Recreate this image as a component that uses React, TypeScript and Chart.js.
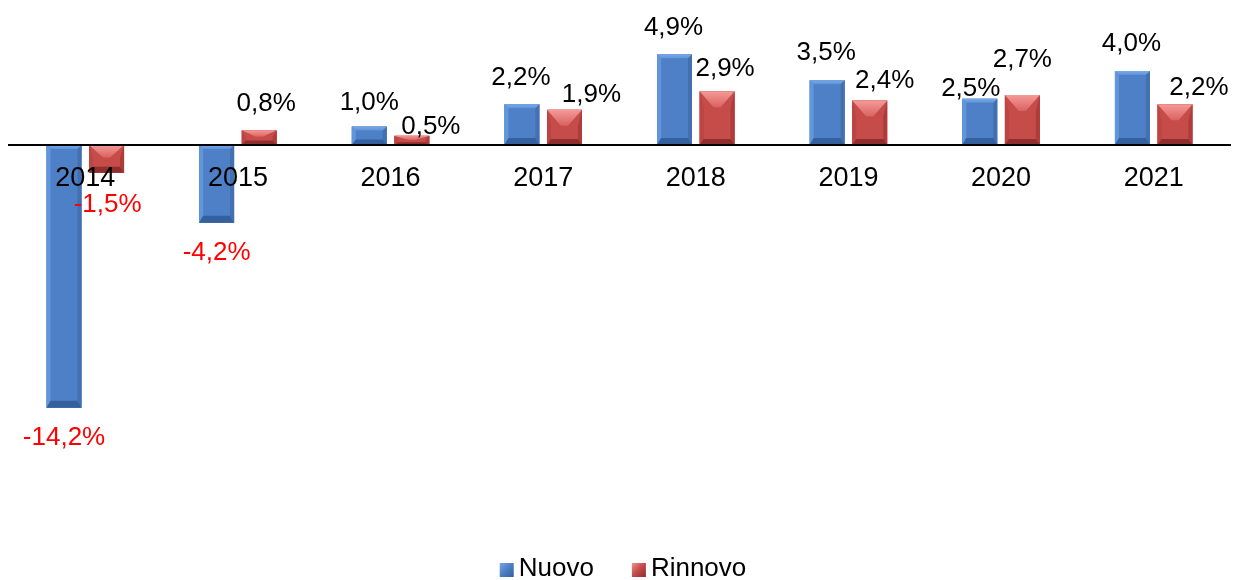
import React, { useEffect, useRef } from 'react';
import { Chart, registerables } from 'chart.js';

Chart.register(...registerables);

const categories = ['2014', '2015', '2016', '2017', '2018', '2019', '2020', '2021'];
const seriesNames = ['Nuovo', 'Rinnovo'];
const nuovoValues = [-14.2, -4.2, 1.0, 2.2, 4.9, 3.5, 2.5, 4.0];
const rinnovoValues = [-1.5, 0.8, 0.5, 1.9, 2.9, 2.4, 2.7, 2.2];

// label nudges in px (dx, dy) relative to the default outside-end position
const nuovoLabelNudge = [[0, 0], [0, 0], [0, 1], [-1, -1], [-1, -2], [-1, -2], [-9, 15], [-1, -2]];
const rinnovoLabelNudge = [[1, 2], [7, -1], [19, 16], [27, 10], [8, 2], [15, 5], [0, -10], [24, 9]];

const FONT = '"Liberation Sans", Arial, Helvetica, sans-serif';

const palettes = [
  { main: '#4D80C6', top: '#7AAAE8', topDark: '#5E92D8', left: '#6296DC', right: '#4470B2', bottom: '#35609E', topDepth: 4, topInsetFrac: 0.12, bottomDepth: 7, side: 4 },
  { main: '#C64C4A', top: '#F49A98', topDark: '#DA6260', left: '#BC4442', right: '#AE3C3B', bottom: '#8F2E2C', topDepth: 16, topInsetFrac: 0.4, bottomDepth: 6, side: 4 },
];

function poly(ctx: CanvasRenderingContext2D, pts: number[][], fill: string | CanvasGradient) {
  ctx.beginPath();
  ctx.moveTo(pts[0][0], pts[0][1]);
  for (let i = 1; i < pts.length; i++) ctx.lineTo(pts[i][0], pts[i][1]);
  ctx.closePath();
  ctx.fillStyle = fill;
  ctx.fill();
}

function drawBevelBar(ctx: CanvasRenderingContext2D, l: number, r: number, t: number, b: number, pal: any) {
  const w = r - l;
  const h = b - t;
  if (h <= 0) return;
  const side = Math.min(pal.side, w / 4);
  const topD = Math.min(pal.topDepth, h * 0.45);
  const botD = Math.min(pal.bottomDepth, h * 0.3);
  const tin = Math.max(side, w * pal.topInsetFrac);
  ctx.save();
  poly(ctx, [[l, t], [r, t], [r, b], [l, b]], pal.main);
  poly(ctx, [[l, t], [l + side, t + topD], [l + side, b - botD], [l, b]], pal.left);
  poly(ctx, [[r, t], [r - side, t + topD], [r - side, b - botD], [r, b]], pal.right);
  const g = ctx.createLinearGradient(0, t, 0, t + topD);
  g.addColorStop(0, pal.top);
  g.addColorStop(1, pal.topDark);
  poly(ctx, [[l, t], [r, t], [r - tin, t + topD], [l + tin, t + topD]], g);
  poly(ctx, [[l, b], [r, b], [r - side, b - botD], [l + side, b - botD]], pal.bottom);
  ctx.restore();
}

function fmt(v: number) {
  return v.toFixed(1).replace('.', ',') + '%';
}

const bevelPlugin = {
  id: 'bevelBars',
  afterDatasetsDraw(chart: any) {
    const ctx = chart.ctx;
    chart.data.datasets.forEach((_ds: any, di: number) => {
      const meta = chart.getDatasetMeta(di);
      meta.data.forEach((el: any) => {
        const p = el.getProps(['x', 'y', 'base', 'width'], true);
        const l = p.x - p.width / 2;
        const r = p.x + p.width / 2;
        const t = Math.min(p.y, p.base);
        const b = Math.max(p.y, p.base);
        drawBevelBar(ctx, l, r, t, b, palettes[di]);
      });
    });
  },
};

const nudges = [nuovoLabelNudge, rinnovoLabelNudge];

const labelPlugin = {
  id: 'valueLabels',
  afterDraw(chart: any) {
    const ctx = chart.ctx;
    ctx.save();
    ctx.font = `26px ${FONT}`;
    ctx.textAlign = 'center';
    ctx.textBaseline = 'middle';
    chart.data.datasets.forEach((ds: any, di: number) => {
      const meta = chart.getDatasetMeta(di);
      meta.data.forEach((el: any, i: number) => {
        const v = ds.data[i];
        const p = el.getProps(['x', 'y', 'base'], true);
        const t = Math.min(p.y, p.base);
        const b = Math.max(p.y, p.base);
        const n = nudges[di][i];
        const cx = p.x + n[0];
        const cy = (v >= 0 ? t - 25 : b + 30) + n[1];
        ctx.fillStyle = v < 0 ? '#FF0000' : '#000000';
        ctx.fillText(fmt(v), cx, cy);
      });
    });
    ctx.restore();
  },
};

const legendPlugin = {
  id: 'customLegend',
  afterDraw(chart: any) {
    const ctx = chart.ctx;
    ctx.save();
    ctx.font = `26px ${FONT}`;
    ctx.textBaseline = 'middle';
    ctx.textAlign = 'left';
    const box = 14;
    const gap = 5;
    const spacing = 38;
    const widths = seriesNames.map((s) => ctx.measureText(s).width);
    const total = widths.reduce((a, w) => a + box + gap + w, 0) + spacing * (seriesNames.length - 1);
    let x = 623 - total / 2;
    const cy = 569;
    seriesNames.forEach((s, i) => {
      const pal = palettes[i];
      const g = ctx.createLinearGradient(x, cy - box / 2, x + box, cy + box / 2);
      g.addColorStop(0, pal.top);
      g.addColorStop(0.5, pal.main);
      g.addColorStop(1, pal.bottom);
      ctx.fillStyle = g;
      ctx.fillRect(x, cy - box / 2 + 1, box, box);
      ctx.fillStyle = '#000000';
      ctx.fillText(s, x + box + gap, cy);
      x += box + gap + widths[i] + spacing;
    });
    ctx.restore();
  },
};

export default function App() {
  const canvasRef = useRef<HTMLCanvasElement | null>(null);

  useEffect(() => {
    const canvas = canvasRef.current;
    if (!canvas) return;
    const chart = new Chart(canvas, {
      type: 'bar',
      data: {
        labels: categories,
        datasets: [
          {
            label: seriesNames[0],
            data: nuovoValues,
            backgroundColor: palettes[0].main,
            borderWidth: 0,
            barPercentage: 0.82,
            categoryPercentage: 0.558,
          },
          {
            label: seriesNames[1],
            data: rinnovoValues,
            backgroundColor: palettes[1].main,
            borderWidth: 0,
            barPercentage: 0.82,
            categoryPercentage: 0.558,
          },
        ],
      },
      options: {
        responsive: false,
        animation: false,
        devicePixelRatio: 1,
        layout: { padding: { left: 9, right: 6, top: 0, bottom: 50 } },
        plugins: {
          legend: { display: false },
          tooltip: { enabled: false },
        },
        scales: {
          x: {
            type: 'category',
            position: { y: 0 } as any,
            offset: true,
            grid: { display: false, drawTicks: false },
            border: { display: true, color: '#000000', width: 2, z: 1 },
            ticks: {
              color: '#000000',
              font: { family: FONT, size: 27 },
              padding: 17,
              z: 1,
              maxRotation: 0,
              autoSkip: false,
            },
          },
          y: {
            display: false,
            min: -20.81,
            max: 7.838,
          },
        },
      },
      plugins: [bevelPlugin, labelPlugin, legendPlugin],
    });
    return () => chart.destroy();
  }, []);

  return (
    <div style={{ position: 'fixed', left: 0, top: 0, width: 1236, height: 580, background: '#ffffff' }}>
      <canvas ref={canvasRef} width={1236} height={580} style={{ width: 1236, height: 580, display: 'block' }} />
    </div>
  );
}
